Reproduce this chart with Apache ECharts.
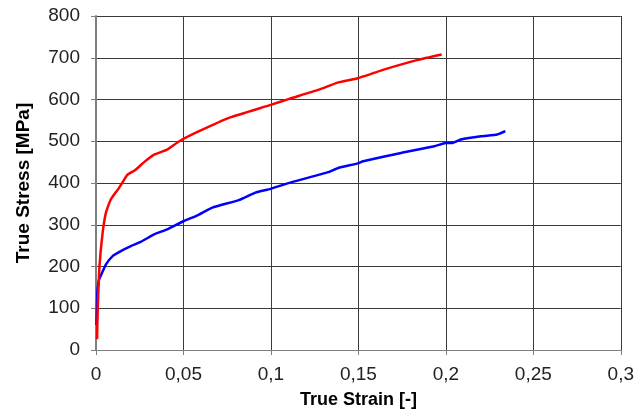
<!DOCTYPE html>
<html>
<head>
<meta charset="utf-8">
<script src="https://cdn.jsdelivr.net/npm/echarts@6/dist/echarts.min.js"></script>
<style>html,body{margin:0;padding:0;background:#fff}#c{width:637px;height:414px}</style>
</head>
<body>
<div id="c"></div>
<script>
var redStrain = [0.0006,0.001,0.002,0.0038,0.0057,0.0085,0.0133,0.0161,0.018,0.0227,0.0275,0.0332,0.0407,0.0476,0.0589,0.076,0.0998,0.110,0.127,0.1385,0.1497,0.164,0.184,0.1976];
var redStress = [26,98,201,281,329,361,389,408,420,432,450,468,480,500,524,556,587,601,623,641,651,671,695,708];
var blueStrain = [0.0003,0.0008,0.0015,0.0019,0.0057,0.0095,0.0142,0.0199,0.0256,0.0332,0.0407,0.0502,0.0578,0.0665,0.0816,0.0911,0.0998,0.1119,0.1328,0.1385,0.1497,0.1527,0.1744,0.1934,0.2,0.2038,0.2085,0.22,0.2294,0.234];
var blueStress = [60,140,165,170,205,225,237,249,259,277,289,309,322,341,359,377,386,402,426,436,447,452,472,488,496,496,504,512,516,524];
var xTitle = 'True Strain [-]';
var yTitle = 'True Stress [MPa]';

function pairs(xs, ys){ return xs.map(function(x,i){ return [x, ys[i]]; }); }

var chart = echarts.init(document.getElementById('c'), null, {renderer:'canvas'});
chart.setOption({
  animation:false,
  grid:{left:96, right:13, top:16, bottom:63},
  xAxis:{
    type:'value', min:0, max:0.3, interval:0.05,
    name:xTitle, nameLocation:'middle', nameGap:41,
    nameTextStyle:{fontFamily:'Liberation Sans, Arial', fontWeight:'bold', fontSize:18, color:'#000'},
    axisLine:{show:true, lineStyle:{color:'#7f7f7f', width:1}},
    axisTick:{show:true, length:5, lineStyle:{color:'#7f7f7f'}},
    axisLabel:{fontFamily:'Liberation Sans, Arial', fontSize:19, color:'#222', margin:15,
      formatter:function(v){ return String(+v.toFixed(2)).replace('.', ','); }},
    splitLine:{show:true, lineStyle:{color:'#3a3a3a', width:1}}
  },
  yAxis:{
    type:'value', min:0, max:800, interval:100,
    name:yTitle, nameLocation:'middle', nameGap:63, nameRotate:90,
    nameTextStyle:{fontFamily:'Liberation Sans, Arial', fontWeight:'bold', fontSize:19, color:'#000'},
    axisLine:{show:true, lineStyle:{color:'#7f7f7f', width:2}},
    axisTick:{show:true, length:5, lineStyle:{color:'#7f7f7f'}},
    axisLabel:{fontFamily:'Liberation Sans, Arial', fontSize:19, color:'#222', margin:16},
    splitLine:{show:true, lineStyle:{color:'#3a3a3a', width:1}}
  },
  series:[
    {type:'line', data:pairs(blueStrain, blueStress), showSymbol:false, smooth:0.15,
     lineStyle:{color:'#0000ff', width:2.5}, itemStyle:{color:'#0000ff'}, z:2},
    {type:'line', data:pairs(redStrain, redStress), showSymbol:false, smooth:0.15,
     lineStyle:{color:'#ff0000', width:2.5}, itemStyle:{color:'#ff0000'}, z:3}
  ]
});
</script>
</body>
</html>
